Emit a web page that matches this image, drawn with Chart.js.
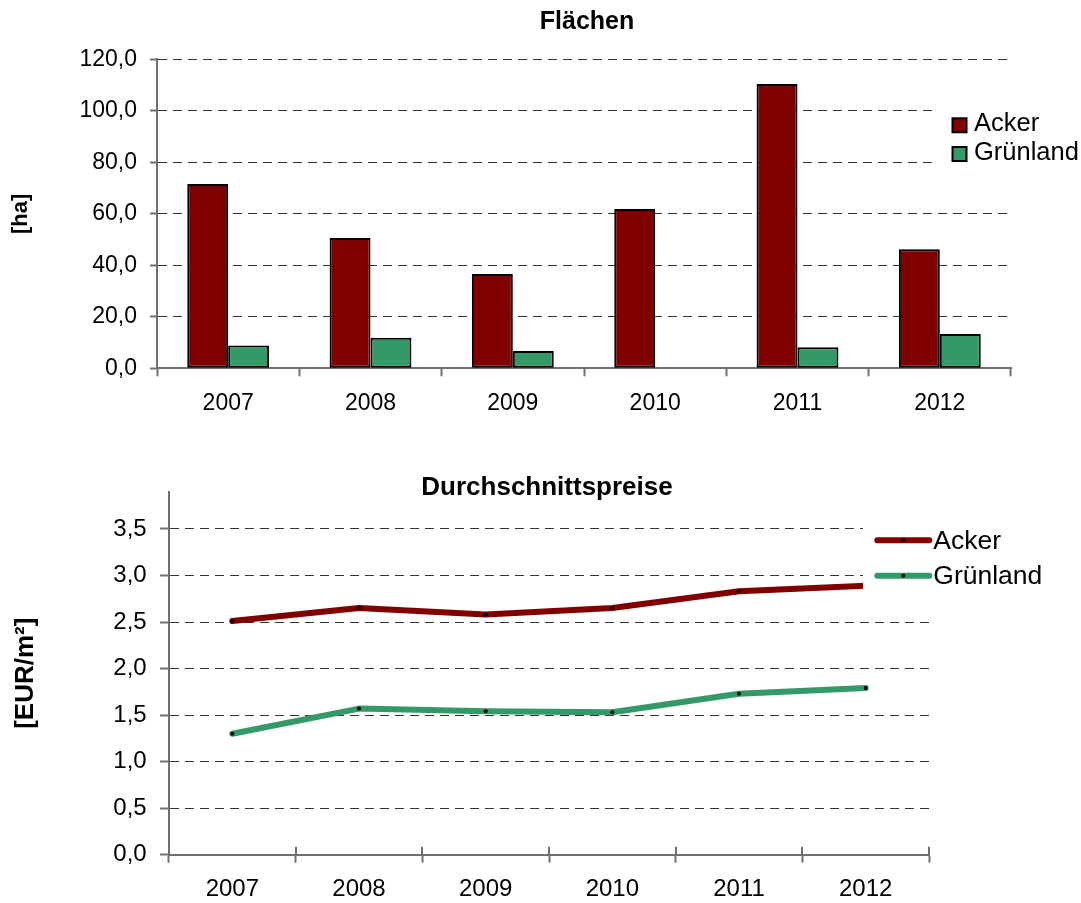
<!DOCTYPE html>
<html><head><meta charset="utf-8">
<script src="https://cdn.jsdelivr.net/npm/chart.js@4.4.1/dist/chart.umd.min.js"></script>
<style>
html,body{margin:0;padding:0;background:#fff;}
#w1{position:absolute;left:0;top:0;width:1081px;height:440px;}
#w2{position:absolute;left:0;top:440px;width:1081px;height:463px;}
</style></head><body>
<div id="w1"><canvas id="c1"></canvas></div>
<div id="w2"><canvas id="c2"></canvas></div>
<script>
// ---- data ----
const years = ['2007', '2008', '2009', '2010', '2011', '2012'];
const flaechenAcker = [71.6, 50.6, 36.6, 61.9, 110.4, 46.2];
const flaechenGruenland = [8.9, 11.9, 6.7, null, 8.2, 13.3];
const preiseAcker = [2.51, 2.65, 2.58, 2.65, 2.83, 2.89];
const preiseGruenland = [1.30, 1.57, 1.54, 1.53, 1.73, 1.79];
const seriesNames = ['Acker', 'Grünland'];
const titleTop = 'Flächen';
const titleBottom = 'Durchschnittspreise';
const yTitleTop = '[ha]';
const yTitleBottom = '[EUR/m²]';

const FONT = '"Liberation Sans", Arial, Helvetica, sans-serif';
const RED = '#800000';
const GREEN = '#339966';
const AXIS = '#707070';
const GRID = '#333333';
const fmt = v => Number(v).toFixed(1).replace('.', ',');

const customTitle = {
  id: 'customTitle',
  afterDraw(chart, args, o) {
    if (!o || !o.text) return;
    const ctx = chart.ctx;
    ctx.save();
    ctx.font = o.font;
    ctx.fillStyle = '#000';
    ctx.textAlign = 'center';
    ctx.textBaseline = 'alphabetic';
    ctx.fillText(o.text, o.x, o.y);
    ctx.restore();
  }
};

const boxLegend = {
  id: 'boxLegend',
  afterDatasetsDraw(chart, args, o) {
    if (!o || !o.rows) return;
    const ctx = chart.ctx;
    ctx.save();
    ctx.fillStyle = '#fff';
    ctx.fillRect(o.cover.x, o.cover.y, o.cover.w, o.cover.h);
    chart.data.datasets.forEach((ds, i) => {
      const cy = o.rows[i];
      if (o.kind === 'box') {
        ctx.fillStyle = ds.backgroundColor;
        ctx.fillRect(o.markX, cy - o.size / 2, o.size, o.size);
        ctx.lineWidth = 2;
        ctx.strokeStyle = '#000';
        ctx.strokeRect(o.markX, cy - o.size / 2, o.size, o.size);
      } else {
        ctx.strokeStyle = ds.borderColor;
        ctx.lineWidth = 6;
        ctx.lineCap = 'round';
        ctx.beginPath();
        ctx.moveTo(o.markX, cy);
        ctx.lineTo(o.markX + o.lineLen, cy);
        ctx.stroke();
        ctx.fillStyle = '#000';
        ctx.beginPath();
        ctx.arc(o.markX + o.lineLen / 2, cy, 2, 0, Math.PI * 2);
        ctx.fill();
      }
      ctx.fillStyle = '#000';
      ctx.font = o.font;
      ctx.textAlign = 'left';
      ctx.textBaseline = 'alphabetic';
      ctx.fillText(ds.label, o.textX, o.baselines[i]);
    });
    ctx.restore();
  }
};

// inner half of category tick marks (they cross the axis in the bottom chart)
const innerTicks = {
  id: 'innerTicks',
  beforeDatasetsDraw(chart, args, o) {
    if (!o || !o.len) return;
    const x = chart.scales.x;
    const n = chart.data.labels.length;
    const ctx = chart.ctx;
    ctx.save();
    ctx.strokeStyle = AXIS;
    ctx.lineWidth = 2;
    for (let i = 0; i <= n; i++) {
      const px = Math.round(x.left + i * x.width / n);
      ctx.beginPath();
      ctx.moveTo(px, x.top);
      ctx.lineTo(px, x.top - o.len);
      ctx.stroke();
    }
    ctx.restore();
  }
};

Chart.register(customTitle, boxLegend, innerTicks);

const gridColor = c => (c.tick && Math.abs(c.tick.value) < 1e-9) ? 'rgba(0,0,0,0)' : GRID;

new Chart(document.getElementById('c1'), {
  type: 'bar',
  data: {
    labels: years,
    datasets: [
      { label: seriesNames[0], data: flaechenAcker, backgroundColor: RED, borderColor: '#000', borderWidth: 2, borderSkipped: false },
      { label: seriesNames[1], data: flaechenGruenland, backgroundColor: GREEN, borderColor: '#000', borderWidth: 2, borderSkipped: false }
    ]
  },
  options: {
    responsive: true, maintainAspectRatio: false, animation: false, devicePixelRatio: 1,
    layout: { padding: { left: 0, right: 70, top: 59.3, bottom: 0 } },
    datasets: { bar: { categoryPercentage: 0.575, barPercentage: 1 } },
    plugins: {
      legend: { display: false }, title: { display: false }, tooltip: { enabled: false },
      customTitle: { text: titleTop, x: 587, y: 29, font: 'bold 25px ' + FONT },
      boxLegend: { kind: 'box', cover: { x: 934, y: 90, w: 147, h: 95 }, markX: 952.5, size: 14,
        rows: [125.3, 154], textX: 974, baselines: [131, 160], font: '25.5px ' + FONT }
    },
    scales: {
      x: {
        grid: { display: true, drawOnChartArea: false, drawTicks: true, tickLength: 8, tickColor: AXIS, tickWidth: 2, offset: true },
        border: { display: true, color: AXIS, width: 2 },
        ticks: { color: '#000', font: { family: FONT, size: 23 }, padding: 14, maxRotation: 0 },
        afterFit(s) { s.height = 71.7; }
      },
      y: {
        min: 0, max: 120,
        ticks: { stepSize: 20, callback: fmt, color: '#000', font: { family: FONT, size: 23 }, padding: 13 },
        grid: { color: gridColor, lineWidth: 1, tickColor: AXIS, tickWidth: 2, tickLength: 7, tickBorderDash: [] },
        border: { display: true, color: AXIS, width: 2, dash: [9, 6] },
        title: { display: true, text: yTitleTop, color: '#000', font: { family: FONT, size: 22, weight: 'bold' }, padding: { top: 7.8, bottom: 0 } },
        afterFit(s) { s.width = 157; }
      }
    }
  }
});

new Chart(document.getElementById('c2'), {
  type: 'line',
  data: {
    labels: years,
    datasets: [
      { label: seriesNames[0], data: preiseAcker, borderColor: RED, backgroundColor: RED, borderWidth: 6, tension: 0,
        borderCapStyle: 'round', borderJoinStyle: 'round', fill: false,
        pointRadius: 2, pointBackgroundColor: '#000', pointBorderWidth: 0, pointHoverRadius: 2 },
      { label: seriesNames[1], data: preiseGruenland, borderColor: GREEN, backgroundColor: GREEN, borderWidth: 6, tension: 0,
        borderCapStyle: 'round', borderJoinStyle: 'round', fill: false,
        pointRadius: 2, pointBackgroundColor: '#000', pointBorderWidth: 0, pointHoverRadius: 2 }
    ]
  },
  options: {
    responsive: true, maintainAspectRatio: false, animation: false, devicePixelRatio: 1,
    layout: { padding: { left: 0, right: 152, top: 51.7, bottom: 0 } },
    plugins: {
      legend: { display: false }, title: { display: false }, tooltip: { enabled: false },
      customTitle: { text: titleBottom, x: 547, y: 55, font: 'bold 26px ' + FONT },
      boxLegend: { kind: 'line', cover: { x: 863, y: 70, w: 218, h: 85 }, markX: 877.3, lineLen: 52,
        rows: [100.3, 135.7], textX: 933.3, baselines: [109, 144], font: '26.5px ' + FONT },
      innerTicks: { len: 8 }
    },
    scales: {
      x: {
        offset: true,
        grid: { display: true, drawOnChartArea: false, drawTicks: true, tickLength: 8, tickColor: AXIS, tickWidth: 2, offset: true },
        border: { display: true, color: AXIS, width: 2 },
        ticks: { color: '#000', font: { family: FONT, size: 24 }, padding: 12, maxRotation: 0 },
        afterFit(s) { s.height = 48.3; }
      },
      y: {
        min: 0, max: 3.9,
        ticks: { stepSize: 0.5, callback: fmt, color: '#000', font: { family: FONT, size: 24 }, padding: 13.3 },
        afterBuildTicks(s) { s.ticks = s.ticks.filter(t => Math.abs(t.value * 2 - Math.round(t.value * 2)) < 1e-6); },
        grid: { color: gridColor, lineWidth: 1, tickColor: AXIS, tickWidth: 2, tickLength: 9, tickBorderDash: [] },
        border: { display: true, color: AXIS, width: 2, dash: [9, 6] },
        title: { display: true, text: yTitleBottom, color: '#000', font: { family: FONT, size: 26, weight: 'bold' }, padding: { top: 10.4, bottom: 0 } },
        afterFit(s) { s.width = 169; }
      }
    }
  }
});
</script>
</body></html>
